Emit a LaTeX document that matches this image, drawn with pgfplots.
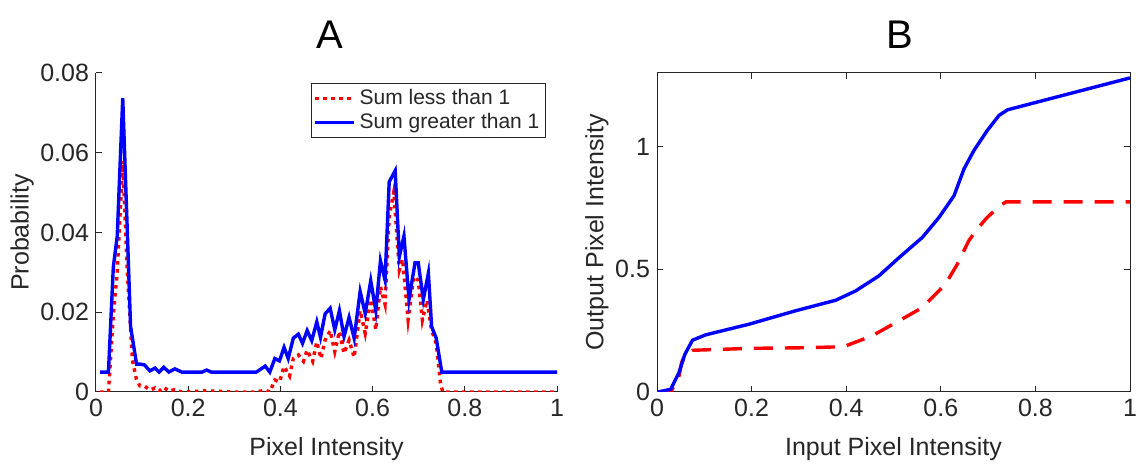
\documentclass[border=0pt]{standalone}
\usepackage{fontspec}
\setmainfont{Liberation Sans}
\usepackage{pgfplots}
\pgfplotsset{compat=1.18}
\definecolor{txt}{gray}{0.15}
\begin{document}
\begin{tikzpicture}
\path[use as bounding box] (0,0) rectangle (570pt,232.5pt);
\pgfplotsset{
  every axis/.append style={
    scale only axis,
    font=\fontsize{12.5}{14}\selectfont,
    tick label style={font=\fontsize{12.5}{14}\selectfont, text=txt},
    label style={font=\fontsize{12.5}{14}\selectfont, text=txt},
    /pgf/number format/assume math mode=true,
    scaled x ticks=false, scaled y ticks=false,
    axis line style={txt, line width=0.5pt, -},
    tick style={txt, line width=0.5pt},
    major tick length=3pt,
    tick align=inside,
    xmin=0, xmax=1,
    xtick={0,0.2,0.4,0.6,0.8,1},
    xticklabels={0,0.2,0.4,0.6,0.8,1},
  }
}
% Panel A
\begin{axis}[
  at={(48pt,36.5pt)}, anchor=south west,
  width=230.5pt, height=159.5pt,
  axis x line*=bottom, axis y line*=left,
  ymin=0, ymax=0.08,
  ytick={0,0.02,0.04,0.06,0.08},
  yticklabels={0,0.02,0.04,0.06,0.08},
  xlabel={Pixel Intensity},
  ylabel={Probability},
  xlabel style={at={(axis description cs:0.5,-0.179)}, anchor=center},
  ylabel style={at={(axis description cs:-0.16,0.5)}, anchor=center},
  legend style={at={(axis description cs:0.976,0.969)}, anchor=north east,
    draw=txt, line width=0.5pt, font=\fontsize{10.5}{12}\selectfont, text=txt,
    inner sep=1pt, row sep=-1pt},
  legend cell align=left,
  legend image code/.code={\draw[#1] (0cm,0cm) -- (0.68cm,0cm);},
]
\addplot[red, line width=1.7pt, dash pattern=on 1.8pt off 2.2pt] coordinates {
(0.009,0) (0.027,0) (0.038,0.02) (0.046,0.03) (0.058,0.058) (0.068,0.03)
(0.079,0.008) (0.088,0.003) (0.0955,0.0015) (0.105,0.0015) (0.117,0.0005) (0.128,0.001)
(0.137,0.0002) (0.147,0.0012) (0.158,0.0002) (0.171,0.0006) (0.186,0) (0.24,0.0003)
(0.30,0) (0.348,0) (0.367,0.0005) (0.377,0) (0.388,0.003) (0.398,0.0025)
(0.408,0.0064) (0.42,0.004) (0.428,0.0084) (0.439,0.0093) (0.45,0.0077) (0.458,0.0105)
(0.47,0.0077) (0.479,0.0126) (0.488,0.0084) (0.497,0.013) (0.508,0.0154) (0.518,0.0101)
(0.528,0.0152) (0.538,0.0097) (0.549,0.013) (0.56,0.0087) (0.573,0.0204) (0.584,0.0147)
(0.596,0.0232) (0.607,0.0156) (0.617,0.0264) (0.627,0.022) (0.636,0.044) (0.646,0.0502)
(0.658,0.0306) (0.665,0.0333) (0.677,0.0181) (0.689,0.0289) (0.699,0.028) (0.708,0.018)
(0.718,0.023) (0.728,0.0155) (0.738,0.0122) (0.747,0.0025) (0.752,0) (1.0,0)
};
\addlegendentry{Sum less than 1}
\addplot[blue, line width=1.7pt] coordinates {
(0.009,0.005) (0.027,0.005) (0.0376,0.0314) (0.046,0.039) (0.058,0.0737) (0.075,0.0164)
(0.088,0.007) (0.0955,0.007) (0.105,0.0068) (0.117,0.0053) (0.128,0.006) (0.137,0.005)
(0.147,0.0062) (0.158,0.005) (0.171,0.0058) (0.186,0.005) (0.23,0.005) (0.24,0.0055)
(0.25,0.005) (0.348,0.005) (0.367,0.0065) (0.377,0.005) (0.388,0.0084) (0.398,0.0078)
(0.408,0.0112) (0.417,0.0084) (0.428,0.0135) (0.439,0.0145) (0.448,0.0122) (0.458,0.0154)
(0.468,0.0129) (0.479,0.0176) (0.487,0.0137) (0.497,0.0196) (0.508,0.021) (0.518,0.0156)
(0.528,0.0204) (0.538,0.0139) (0.549,0.0187) (0.56,0.0135) (0.573,0.0252) (0.584,0.0197)
(0.596,0.0279) (0.607,0.0204) (0.617,0.0329) (0.627,0.0281) (0.636,0.0527) (0.649,0.0555)
(0.658,0.0339) (0.668,0.0391) (0.679,0.0232) (0.692,0.0324) (0.699,0.0324) (0.71,0.0232)
(0.721,0.0298) (0.728,0.0164) (0.738,0.0135) (0.75,0.005) (1.0,0.005)
};
\addlegendentry{Sum greater than 1}
\end{axis}
% Panel B
\begin{axis}[
  at={(328.5pt,36.5pt)}, anchor=south west,
  width=236.5pt, height=159.5pt,
  ymin=0, ymax=1.3,
  ytick={0,0.5,1},
  yticklabels={0,0.5,1},
  xlabel={Input Pixel Intensity},
  ylabel={Output Pixel Intensity},
  xlabel style={at={(axis description cs:0.5,-0.179)}, anchor=center},
  ylabel style={at={(axis description cs:-0.127,0.5)}, anchor=center},
]
\addplot[red, line width=1.7pt, dash pattern=on 9.5pt off 6pt] coordinates {
(0.0,0) (0.03,0.002) (0.0465,0.065) (0.052,0.12) (0.06,0.155) (0.075,0.17)
(0.2,0.178) (0.3,0.18) (0.385,0.184) (0.399,0.188) (0.455,0.229) (0.505,0.283)
(0.561,0.344) (0.61,0.44) (0.635,0.521) (0.659,0.616) (0.674,0.657) (0.695,0.705)
(0.72,0.752) (0.738,0.775) (1.0,0.775)
};
\addplot[blue, line width=1.7pt] coordinates {
(0.0014,0.0) (0.029,0.011) (0.0465,0.079) (0.059,0.154) (0.075,0.211) (0.103,0.233)
(0.194,0.276) (0.293,0.331) (0.378,0.374) (0.42,0.412) (0.469,0.473) (0.512,0.548)
(0.561,0.63) (0.596,0.711) (0.628,0.8) (0.649,0.909) (0.67,0.984) (0.698,1.065)
(0.723,1.127) (0.741,1.15) (1.0,1.28)
};
\end{axis}
\node[font=\fontsize{20}{24}\selectfont, text=black] at (165pt,215pt) {A};
\node[font=\fontsize{20}{24}\selectfont, text=black] at (450pt,215pt) {B};
\end{tikzpicture}
\end{document}
